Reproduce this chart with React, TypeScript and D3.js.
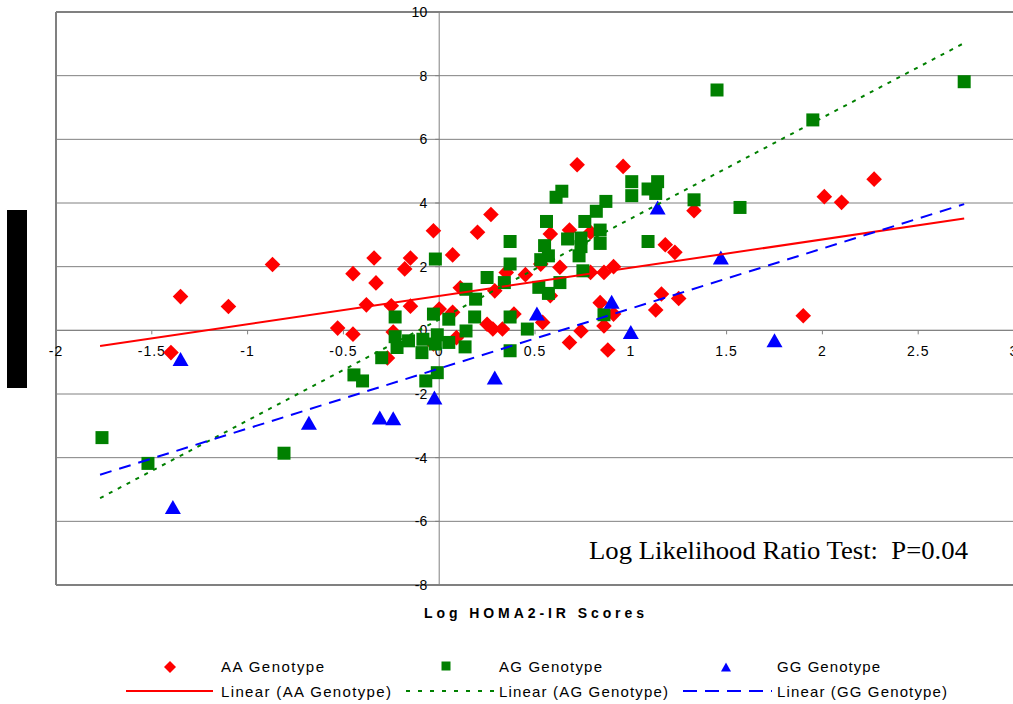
import React from "react";
import * as d3 from "d3";

// Log HOMA2-IR score (x) against outcome (y), by genotype
const aaPoints: [number, number][] = [
  [-1.40, -0.70], [-1.35, 1.06], [-1.10, 0.75], [-0.87, 2.07],
  [-0.53, 0.07], [-0.45, -0.12], [-0.45, 1.78], [-0.38, 0.80], [-0.34, 2.27], [-0.33, 1.49],
  [-0.25, 0.77], [-0.24, -0.05], [-0.27, -0.87], [-0.18, 1.93], [-0.15, 2.27], [-0.15, 0.76],
  [-0.03, 3.13], [-0.03, -0.43], [0.00, 0.67], [0.07, 2.37], [0.07, 0.57], [0.09, -0.23],
  [0.11, 1.34], [0.20, 3.08], [0.27, 3.64], [0.25, 0.19], [0.28, 0.04], [0.29, 1.24],
  [0.33, 0.04], [0.35, 1.82], [0.39, 0.51], [0.45, 1.75], [0.53, 2.08], [0.54, 0.25],
  [0.58, 3.03], [0.58, 1.09], [0.63, 1.98], [0.68, 3.15], [0.68, -0.38], [0.72, 5.2],
  [0.74, -0.02], [0.79, 3.08], [0.79, 1.82], [0.84, 0.87], [0.86, 1.82], [0.86, 0.14],
  [0.88, -0.62], [0.91, 2.0], [0.91, 0.51], [0.96, 5.15], [1.13, 0.64], [1.16, 1.14],
  [1.18, 2.69], [1.23, 2.45], [1.25, 1.0], [1.33, 3.76], [1.90, 0.46], [2.01, 4.2],
  [2.10, 4.02], [2.27, 4.75],
];

const agPoints: [number, number][] = [
  [-1.76, -3.37], [-1.52, -4.18], [-0.81, -3.86], [-0.445, -1.40], [-0.40, -1.59],
  [-0.30, -0.86], [-0.23, 0.42], [-0.23, -0.2], [-0.22, -0.54], [-0.16, -0.33],
  [-0.09, -0.7], [-0.085, -0.28], [-0.07, -1.59], [-0.02, 2.24], [-0.03, 0.51],
  [-0.02, -0.43], [-0.01, -0.14], [-0.01, -1.33], [0.05, 0.35], [0.05, -0.38],
  [0.135, -0.52], [0.14, 1.29], [0.14, -0.02], [0.185, 0.42], [0.19, 0.98],
  [0.25, 1.66], [0.34, 1.50], [0.37, 2.79], [0.37, 2.08], [0.37, 0.42], [0.37, -0.64],
  [0.46, 0.04], [0.52, 1.35], [0.53, 2.22], [0.55, 2.66], [0.56, 3.42], [0.57, 2.34],
  [0.57, 1.16], [0.61, 4.18], [0.63, 1.50], [0.64, 4.37], [0.67, 2.87], [0.73, 2.34],
  [0.74, 2.9], [0.74, 2.63], [0.75, 1.87], [0.76, 3.42], [0.82, 3.74], [0.84, 3.15],
  [0.84, 2.73], [0.86, 0.49], [0.87, 4.05], [1.005, 4.67], [1.005, 4.23], [1.09, 4.44],
  [1.09, 2.79], [1.13, 4.30], [1.14, 4.67], [1.33, 4.10], [1.45, 7.55], [1.57, 3.86],
  [1.95, 6.61], [2.74, 7.81],
];

const ggPoints: [number, number][] = [
  [-1.39, -5.55], [-1.35, -0.9], [-0.68, -2.9], [-0.31, -2.74], [-0.24, -2.76],
  [-0.025, -2.11], [0.29, -1.48], [0.51, 0.53], [0.90, 0.90], [1.0, -0.05],
  [1.14, 3.86], [1.47, 2.29], [1.75, -0.31],
];

// Linear trend fits: [intercept, slope]
const aaTrend: [number, number] = [1.08, 0.887];
const agTrend: [number, number] = [0.34, 3.17];
const ggTrend: [number, number] = [-1.2, 1.885];
const trendRange: [number, number] = [-1.77, 2.74];

const xTicks = [-2, -1.5, -1, -0.5, 0, 0.5, 1, 1.5, 2, 2.5, 3];
const yTicks = [-8, -6, -4, -2, 0, 2, 4, 6, 8, 10];

const xTitle = "Log HOMA2-IR Scores";
const noteText = "Log Likelihood Ratio Test:  P=0.04";

const RED = "#ff0000";
const GREEN = "#008000";
const BLUE = "#0000ff";
const GRID = "#808080";
const SANS = "'Liberation Sans', Arial, sans-serif";

const W = 1013;
const H = 704;
const left = 56;
const right = 1014;
const top = 12;
const bottom = 585;

const x = d3.scaleLinear().domain([-2, 3]).range([left, right]);
const y = d3.scaleLinear().domain([-8, 10]).range([bottom, top]);

const diamond = (cx: number, cy: number, r: number) =>
  `M${cx},${cy - r}L${cx + r},${cy}L${cx},${cy + r}L${cx - r},${cy}Z`;
const square = (cx: number, cy: number, s: number) =>
  `M${cx - s / 2},${cy - s / 2}h${s}v${s}h${-s}Z`;
const triangle = (cx: number, cy: number, w: number, h: number) =>
  `M${cx},${cy - h / 2}L${cx + w / 2},${cy + h / 2}L${cx - w / 2},${cy + h / 2}Z`;

const fmt = (v: number) => String(v);

function trendPath(t: [number, number]) {
  const line = d3
    .line<number>()
    .x((v) => x(v))
    .y((v) => y(t[0] + t[1] * v));
  return line(trendRange) || "";
}

export default function App() {
  const x0 = x(0);
  const y0 = y(0);
  return (
    <svg
      width={W}
      height={H}
      style={{ position: "absolute", left: 0, top: 0, background: "#fff", overflow: "hidden" }}
      fontFamily={SANS}
    >
      <rect x={0} y={0} width={W} height={H} fill="#fff" />

      {/* horizontal gridlines */}
      {yTicks.map((t) => (
        <line key={"g" + t} x1={left} x2={right} y1={y(t)} y2={y(t)} stroke={GRID} strokeWidth={1} />
      ))}

      {/* plot frame */}
      <line x1={left} x2={right} y1={top} y2={top} stroke={GRID} strokeWidth={2} />
      <line x1={left} x2={right} y1={bottom} y2={bottom} stroke={GRID} strokeWidth={2} />
      <line x1={left} x2={left} y1={top} y2={bottom} stroke={GRID} strokeWidth={2} />

      {/* axes through the origin */}
      <line x1={x0} x2={x0} y1={top} y2={bottom} stroke={GRID} strokeWidth={1} />
      <line x1={left} x2={right} y1={y0} y2={y0} stroke={GRID} strokeWidth={1} />
      {xTicks.map((t) => (
        <line key={"xt" + t} x1={x(t)} x2={x(t)} y1={y0} y2={y0 + 4} stroke={GRID} strokeWidth={1} />
      ))}
      {yTicks.map((t) => (
        <line key={"yt" + t} x1={x0 - 4} x2={x0} y1={y(t)} y2={y(t)} stroke={GRID} strokeWidth={1} />
      ))}

      {/* tick labels */}
      {xTicks.map((t) => (
        <text
          key={"xl" + t}
          x={x(t)}
          y={y0 + 26}
          textAnchor="middle"
          fontSize={14}
          letterSpacing={1}
          fill="#000"
        >
          {fmt(t)}
        </text>
      ))}
      {yTicks.map((t) => (
        <text key={"yl" + t} x={x0 - 12} y={y(t) + 5} textAnchor="end" fontSize={14} fill="#000">
          {fmt(t)}
        </text>
      ))}

      {/* markers */}
      {aaPoints.map((p, i) => (
        <path key={"aa" + i} d={diamond(x(p[0]), y(p[1]), 7.8)} fill={RED} />
      ))}
      {agPoints.map((p, i) => (
        <path key={"ag" + i} d={square(x(p[0]), y(p[1]), 13)} fill={GREEN} />
      ))}
      {ggPoints.map((p, i) => (
        <path key={"gg" + i} d={triangle(x(p[0]), y(p[1]), 16, 14)} fill={BLUE} />
      ))}

      {/* trend lines */}
      <path d={trendPath(aaTrend)} stroke={RED} strokeWidth={2} fill="none" />
      <path d={trendPath(agTrend)} stroke={GREEN} strokeWidth={2} fill="none" strokeDasharray="4,6" />
      <path d={trendPath(ggTrend)} stroke={BLUE} strokeWidth={2} fill="none" strokeDasharray="12,8" />

      {/* annotation */}
      <text
        x={589}
        y={559}
        fontFamily="'Liberation Serif', 'Times New Roman', serif"
        fontSize={26}
        textLength={379}
        lengthAdjust="spacingAndGlyphs"
        style={{ whiteSpace: "pre" }}
        fill="#000"
      >
        {noteText}
      </text>

      {/* axis title */}
      <text x={424} y={618} fontSize={14} fontWeight="bold" textLength={220} fill="#000">
        {xTitle}
      </text>

      {/* y title (blacked out) */}
      <rect x={7} y={210} width={20} height={178} fill="#000" />

      {/* legend */}
      <g fontSize={15} fill="#000">
        <path d={diamond(170, 667, 6)} fill={RED} />
        <text x={221} y={672} textLength={103}>AA Genotype</text>
        <path d={square(446, 666, 9)} fill={GREEN} />
        <text x={499} y={672} textLength={103}>AG Genotype</text>
        <path d={triangle(726, 667, 10, 9)} fill={BLUE} />
        <text x={777} y={672} textLength={103}>GG Genotype</text>

        <line x1={126} x2={213} y1={691} y2={691} stroke={RED} strokeWidth={2} />
        <text x={221} y={697} textLength={170}>Linear (AA Genotype)</text>
        <line x1={406} x2={494} y1={691} y2={691} stroke={GREEN} strokeWidth={2} strokeDasharray="4,8" />
        <text x={499} y={697} textLength={169}>Linear (AG Genotype)</text>
        <line x1={683} x2={772} y1={691} y2={691} stroke={BLUE} strokeWidth={2} strokeDasharray="14,8" />
        <text x={777} y={697} textLength={170}>Linear (GG Genotype)</text>
      </g>
    </svg>
  );
}
